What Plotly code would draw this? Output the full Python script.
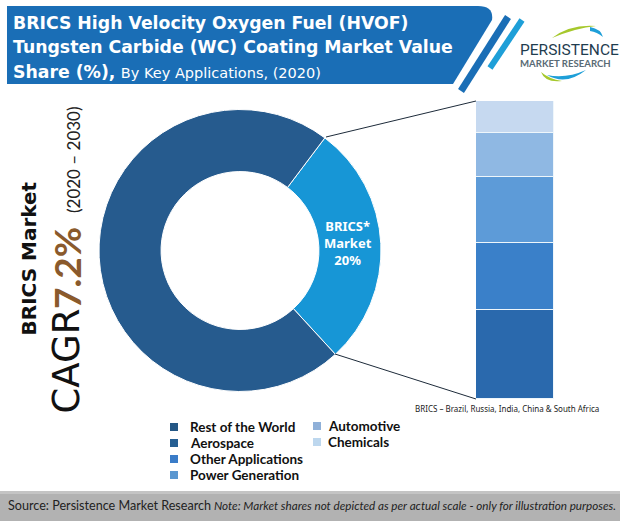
import plotly.graph_objects as go

W, H = 620, 521

# Data
donut_labels = ["BRICS", "Rest of the World"]
donut_values = [27.9, 72.1]
donut_colors = ["#1796d6", "#265b8e"]
bar_category = ["BRICS"]
bar_names = ["Aerospace", "Other Applications", "Power Generation", "Automotive", "Chemicals"]
bar_values = [30.0, 22.5, 22.0, 14.8, 10.7]
bar_colors = ["#2a69ad", "#3a80c9", "#5d9bd8", "#8fb8e3", "#c6d9f0"]
legend_col1 = ["Rest of the World", "Aerospace", "Other Applications", "Power Generation"]
legend_col1_colors = ["#245785", "#265f93", "#3a7cc8", "#5b97d0"]
legend_col2 = ["Automotive", "Chemicals"]
legend_col2_colors = ["#8fb0d8", "#bdd7ee"]


def X(x):
    return x / W


def Y(y):
    return 1 - y / H


def text(x, y, s, size, color="#111", family="Lato", anchor="left", angle=0, yanchor="middle"):
    return dict(x=X(x), y=Y(y), xref="paper", yref="paper", text=s, showarrow=False,
                xanchor=anchor, yanchor=yanchor, textangle=angle, align="left" if anchor == "left" else "center",
                font=dict(size=size, color=color, family=family), borderpad=0, borderwidth=0)


def rect(x0, y0, x1, y1, color):
    return dict(type="rect", xref="paper", yref="paper", x0=X(x0), x1=X(x1), y0=Y(y0), y1=Y(y1),
                fillcolor=color, line_width=0, layer="below")


def seg(x0, y0, x1, y1, color, width):
    return dict(type="line", xref="paper", yref="paper", x0=X(x0), x1=X(x1), y0=Y(y0), y1=Y(y1),
                line=dict(color=color, width=width))


def path(points, color):
    d = ""
    for cmd, *c in points:
        pts = " ".join(f"{X(c[i]):.5f},{Y(c[i+1]):.5f}" for i in range(0, len(c), 2))
        d += f"{cmd} {pts} "
    return dict(type="path", xref="paper", yref="paper", path=d + "Z", fillcolor=color, line_width=0)


fig = go.Figure()

fig.add_trace(go.Pie(labels=donut_labels, values=donut_values, sort=False, direction="clockwise",
                     rotation=37, hole=0.56, textinfo="none", showlegend=False,
                     marker=dict(colors=donut_colors, line=dict(color="white", width=1)),
                     domain=dict(x=[X(99), X(381)], y=[Y(391.5), Y(109.5)])))

for name, val, col in zip(bar_names, bar_values, bar_colors):
    fig.add_trace(go.Bar(x=bar_category, y=[val], name=name, showlegend=False,
                         marker=dict(color=col, line=dict(color="#eef6fb", width=1.5))))

shapes = [
    rect(0, 0, W, H, "white"),
    rect(0, 491, W, 521, "#b2b2b2"),
    rect(0, 491, W, 494, "#c4c4c4"),
    path([("M", 7, 6), ("L", 478, 6), ("Q", 494, 6, 492, 20), ("L", 453, 84), ("L", 7, 84)], "#1a6eb6"),
    seg(508, 17, 461, 91, "#1a6eb6", 7),
    seg(522, 20, 490, 68, "#1e9fd8", 6),
    path([("M", 552, 38), ("Q", 570, 24, 596, 26), ("Q", 576, 28, 552, 38)], "#a6c82c"),
    path([("M", 590, 27), ("Q", 601, 29, 603, 37), ("Q", 597, 32, 590, 31)], "#1e9fd8"),
    path([("M", 541, 72), ("Q", 545, 83, 562, 81), ("Q", 549, 79, 541, 72)], "#a6c82c"),
    path([("M", 547, 75), ("Q", 566, 86, 586, 70), ("Q", 566, 79, 547, 75)], "#1e9fd8"),
    seg(326, 137, 476, 101, "#1d2b3a", 1),
    seg(335, 354, 476, 399, "#1d2b3a", 1),
]

annotations = [
    text(13, 23, "<b>BRICS High Velocity Oxygen Fuel (HVOF)</b>", 17.3, "white", "DejaVu Sans"),
    text(13, 47, "<b>Tungsten Carbide (WC) Coating Market Value</b>", 17.3, "white", "DejaVu Sans"),
    text(13, 72, "<b>Share (%),</b> <span style='font-size:14.5px;font-weight:normal;'>By Key Applications, (2020)</span>",
         17.3, "white", "DejaVu Sans"),
    text(520, 50, "PERSISTENCE", 15.5, "#1f3d4f", "Roboto"),
    text(520, 64, "<b>MARKET RESEARCH</b>", 9.6, "#5a6b75"),
    text(348, 243, "<b>BRICS*<br>Market<br>20%</b>", 13, "white", "Noto Sans", "center"),
    text(28.5, 259, "<b>BRICS Market</b>", 20, "#111", "DejaVu Sans", "center", -90),
    text(66, 361.5, "CAGR", 37, "#111", "DejaVu Sans", "center", -90),
    text(66, 268, "<b>7.2%</b>", 37, "#8a5a2c", "Lato", "center", -90),
    text(73, 160, "(2020 – 2030)", 17, "#222", "Lato", "center", -90),
    text(507, 408, "BRICS – Brazil, Russia, India, China &amp; South Africa", 8, "#222", "Noto Sans", "center"),
    text(8, 505, "Source: Persistence Market Research", 12.6, "#222"),
    text(214, 505, "<i>Note: Market shares not depicted as per actual scale - only for illustration purposes.</i>", 11.7, "#222"),
]

# Legend keys drawn from the category lists
row_y = [427, 443, 459, 475]
for i, (name, col) in enumerate(zip(legend_col1, legend_col1_colors)):
    shapes.append(rect(170, row_y[i] - 4, 178, row_y[i] + 4, col))
    annotations.append(text(190, row_y[i], f"<b>{name}</b>", 13.5, "#111"))
for i, (name, col) in enumerate(zip(legend_col2, legend_col2_colors)):
    shapes.append(rect(313, row_y[i] - 5, 321, row_y[i] + 3, col))
    annotations.append(text(328, row_y[i] - 1, f"<b>{name}</b>", 13.5, "#111"))

fig.update_layout(
    width=W, height=H, autosize=False,
    margin=dict(l=0, r=0, t=0, b=0),
    paper_bgcolor="white", plot_bgcolor="rgba(0,0,0,0)",
    barmode="stack", bargap=0, showlegend=False,
    xaxis=dict(domain=[X(476), X(554)], visible=False, fixedrange=True),
    yaxis=dict(domain=[Y(399), Y(101)], range=[0, sum(bar_values)], visible=False, fixedrange=True),
    shapes=shapes, annotations=annotations,
)

fig.write_html("out.html", config={"displayModeBar": False},
               post_script="document.body.style.margin='0';document.body.style.overflow='hidden';")
